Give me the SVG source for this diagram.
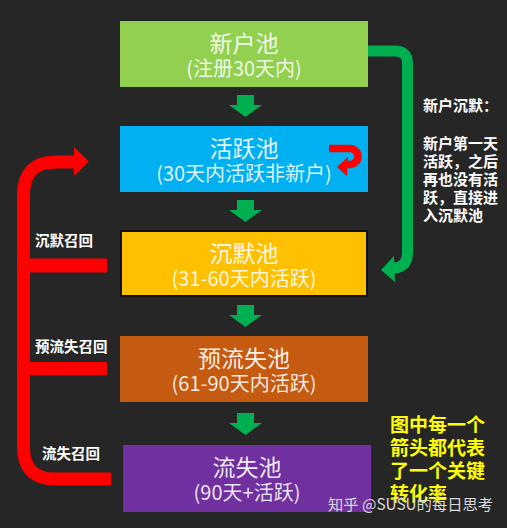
<svg xmlns="http://www.w3.org/2000/svg" width="507" height="528" viewBox="0 0 507 528">
  <style>
    .title { font-family: "Noto Sans CJK SC", "Noto Sans", sans-serif; font-size: 23px; fill: #ffffff; fill-opacity: 0.92; text-anchor: middle; }
    .sub { font-family: "Noto Sans CJK SC", "Noto Sans", sans-serif; font-size: 20px; fill: #ffffff; fill-opacity: 0.88; text-anchor: middle; }
    .lbl { font-family: "Noto Sans CJK SC", "Noto Sans", sans-serif; font-size: 14.5px; font-weight: bold; fill: #ffffff; }
    .note { font-family: "Noto Sans CJK SC", "Noto Sans", sans-serif; font-size: 15px; font-weight: bold; fill: #ffffff; }
    .yel { font-family: "Noto Sans CJK SC", "Noto Sans", sans-serif; font-size: 19px; font-weight: bold; fill: #ffff00; }
    .wm { font-family: "Noto Sans CJK SC", "Noto Sans", sans-serif; font-size: 15.3px; fill: #d9d9d9; }
    .down { fill: #00b050; }
  </style>
  <rect x="0" y="0" width="507" height="528" fill="#262626"/>

  <g id="node-new">
    <rect x="120" y="21" width="248" height="66" fill="#92d050"/>
    <text class="title" x="244" y="52">新户池</text>
    <text class="sub" x="244" y="76">(注册30天内)</text>
  </g>
  <g id="node-active">
    <rect x="120" y="126" width="248" height="66" fill="#00b0f0"/>
    <text class="title" x="244" y="157">活跃池</text>
    <text class="sub" x="244" y="181">(30天内活跃非新户)</text>
  </g>
  <g id="node-silent">
    <rect x="121" y="231" width="246" height="65" fill="#ffc000" stroke="#111111" stroke-width="2"/>
    <text class="title" x="244" y="262">沉默池</text>
    <text class="sub" x="244" y="286">(31-60天内活跃)</text>
  </g>
  <g id="node-prechurn">
    <rect x="120" y="336" width="248" height="66" fill="#c55a11"/>
    <text class="title" x="244" y="367">预流失池</text>
    <text class="sub" x="244" y="391">(61-90天内活跃)</text>
  </g>
  <g id="node-churn">
    <rect x="123" y="445" width="248" height="67" fill="#7030a0"/>
    <text class="title" x="247" y="476">流失池</text>
    <text class="sub" x="247" y="500">(90天+活跃)</text>
  </g>

  <g id="connectors">
    <polygon class="down" points="237,95 254,95 254,105 262,105 245.5,117 229,105 237,105"/>
    <polygon class="down" points="237,200 254,200 254,210 262,210 245.5,222 229,210 237,210"/>
    <polygon class="down" points="237,305 254,305 254,315 262,315 245.5,327 229,315 237,315"/>
    <polygon class="down" points="237,413 254,413 254,423 262,423 245.5,435 229,423 237,423"/>

    <path d="M368 51 H395 Q407.5 51 407.5 63.5 V252 Q407.5 268 393 268" fill="none" stroke="#00b050" stroke-width="11"/>
    <polygon points="381,270 394,256 395,282" fill="#00b050"/>

    <path d="M329 148.5 H350 A8 8 0 0 1 350 164.5 H346" fill="none" stroke="#ff0000" stroke-width="7.5"/>
    <polygon points="337,167 348,157 347,176" fill="#ff0000"/>

    <path d="M111 479 H55 Q23.5 479 23.5 447 V195 Q23.5 162 56 162 H76" fill="none" stroke="#ff0000" stroke-width="13"/>
    <polygon points="74,147 89,161.5 74,176" fill="#ff0000"/>
    <line x1="23.5" y1="265.5" x2="107" y2="265.5" stroke="#ff0000" stroke-width="14"/>
    <line x1="23.5" y1="368.5" x2="107" y2="368.5" stroke="#ff0000" stroke-width="13"/>
  </g>

  <g id="labels">
    <text class="lbl" x="35" y="246">沉默召回</text>
    <text class="lbl" x="35" y="352">预流失召回</text>
    <text class="lbl" x="42" y="459">流失召回</text>

    <text class="note" x="423" y="111">新户沉默：</text>
    <text class="note" x="423" y="149">新户第一天</text>
    <text class="note" x="423" y="167">活跃，之后</text>
    <text class="note" x="423" y="185">再也没有活</text>
    <text class="note" x="423" y="203">跃，直接进</text>
    <text class="note" x="423" y="221">入沉默池</text>

    <text class="yel" x="390" y="432">图中每一个</text>
    <text class="yel" x="390" y="455">箭头都代表</text>
    <text class="yel" x="390" y="478">了一个关键</text>
    <text class="yel" x="390" y="501">转化率</text>

    <text class="wm" x="328" y="510">知乎 @SUSU的每日思考</text>
  </g>
</svg>
